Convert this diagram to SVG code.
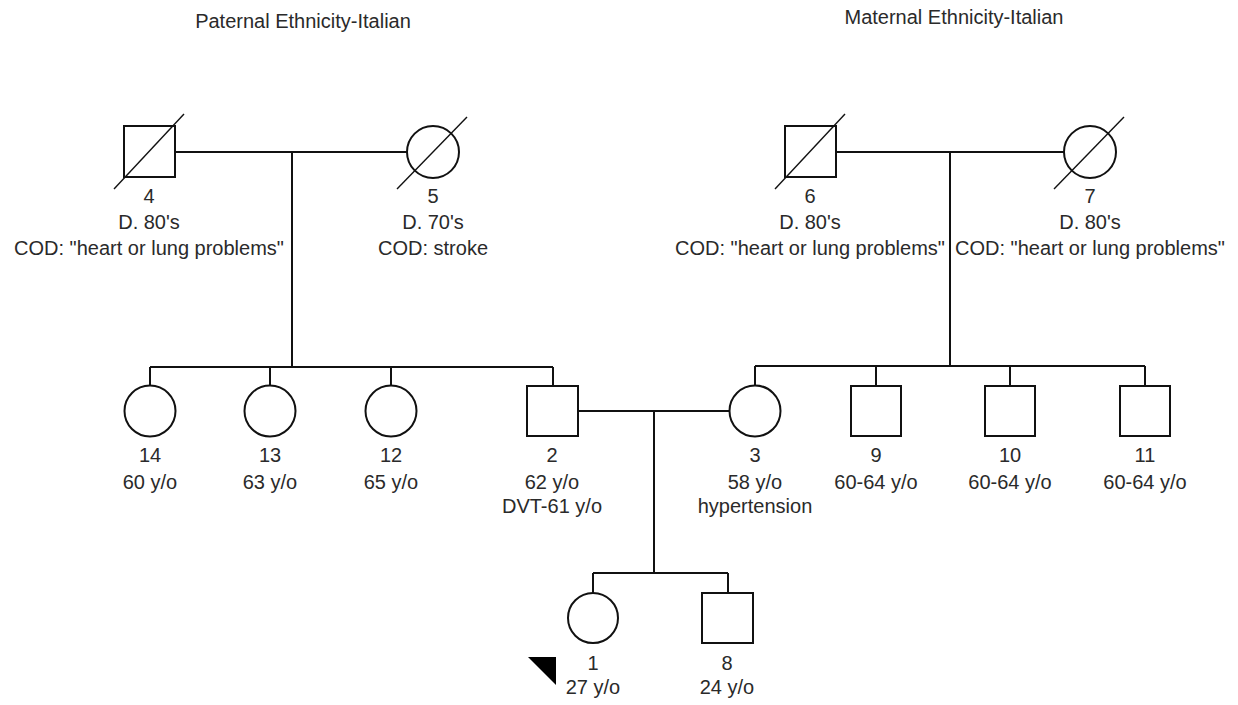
<svg xmlns="http://www.w3.org/2000/svg" width="1238" height="705" viewBox="0 0 1238 705">
<style>
.ln{stroke:#111;stroke-width:2;fill:none}
.sym{stroke:#111;stroke-width:2;fill:#fff}
.dg{stroke:#111;stroke-width:1.4}
text{font-family:"Liberation Sans",Arial,sans-serif;font-size:20px;fill:#2a2a2a;text-anchor:middle}
</style>
<rect width="1238" height="705" fill="#fff"/>
<text x="303" y="28">Paternal Ethnicity-Italian</text>
<text x="954" y="24">Maternal Ethnicity-Italian</text>
<g id="connectors">
<path class="ln" d="M175 152H407M292 152V367M150 367H553M150 367V386M270 367V386M391 367V386M553 367V386"/>
<path class="ln" d="M836 152H1064M950 152V366M755 366H1145M755 366V386M876 366V386M1010 366V386M1145 366V386"/>
<path class="ln" d="M578 411H730M654 411V573M593 573H728M593 573V593M728 573V593"/>
</g>
<g id="n4"><rect class="sym" x="124" y="126" width="51" height="51"/><line class="dg" x1="114" y1="189" x2="184" y2="114"/>
<text x="149" y="203">4</text><text x="149" y="229">D. 80's</text><text x="149" y="255">COD: "heart or lung problems"</text></g>
<g id="n5"><circle class="sym" cx="433" cy="152" r="26"/><line class="dg" x1="397" y1="189" x2="467" y2="117"/>
<text x="433" y="203">5</text><text x="433" y="229">D. 70's</text><text x="433" y="255">COD: stroke</text></g>
<g id="n6"><rect class="sym" x="785" y="126" width="51" height="51"/><line class="dg" x1="775" y1="189" x2="845" y2="114"/>
<text x="810" y="203">6</text><text x="810" y="229">D. 80's</text><text x="810" y="255">COD: "heart or lung problems"</text></g>
<g id="n7"><circle class="sym" cx="1090" cy="152" r="26"/><line class="dg" x1="1054" y1="189" x2="1124" y2="117"/>
<text x="1090" y="203">7</text><text x="1090" y="229">D. 80's</text><text x="1090" y="255">COD: "heart or lung problems"</text></g>
<g id="n14"><circle class="sym" cx="150" cy="411" r="25.5"/><text x="150" y="462">14</text><text x="150" y="489">60 y/o</text></g>
<g id="n13"><circle class="sym" cx="270" cy="411" r="25.5"/><text x="270" y="462">13</text><text x="270" y="489">63 y/o</text></g>
<g id="n12"><circle class="sym" cx="391" cy="411" r="25.5"/><text x="391" y="462">12</text><text x="391" y="489">65 y/o</text></g>
<g id="n2"><rect class="sym" x="527" y="386" width="51" height="50"/><text x="552" y="462">2</text><text x="552" y="489">62 y/o</text><text x="552" y="513">DVT-61 y/o</text></g>
<g id="n3"><circle class="sym" cx="755" cy="411" r="25.5"/><text x="755" y="462">3</text><text x="755" y="489">58 y/o</text><text x="755" y="513">hypertension</text></g>
<g id="n9"><rect class="sym" x="851" y="386" width="50" height="50"/><text x="876" y="462">9</text><text x="876" y="489">60-64 y/o</text></g>
<g id="n10"><rect class="sym" x="985" y="386" width="50" height="50"/><text x="1010" y="462">10</text><text x="1010" y="489">60-64 y/o</text></g>
<g id="n11"><rect class="sym" x="1120" y="386" width="50" height="50"/><text x="1145" y="462">11</text><text x="1145" y="489">60-64 y/o</text></g>
<g id="n1"><circle class="sym" cx="593" cy="618" r="25"/><polygon points="528,657 556,657 556,685" fill="#000"/><text x="593" y="670">1</text><text x="593" y="694">27 y/o</text></g>
<g id="n8"><rect class="sym" x="702" y="593" width="51" height="50"/><text x="727" y="670">8</text><text x="727" y="694">24 y/o</text></g>
</svg>
